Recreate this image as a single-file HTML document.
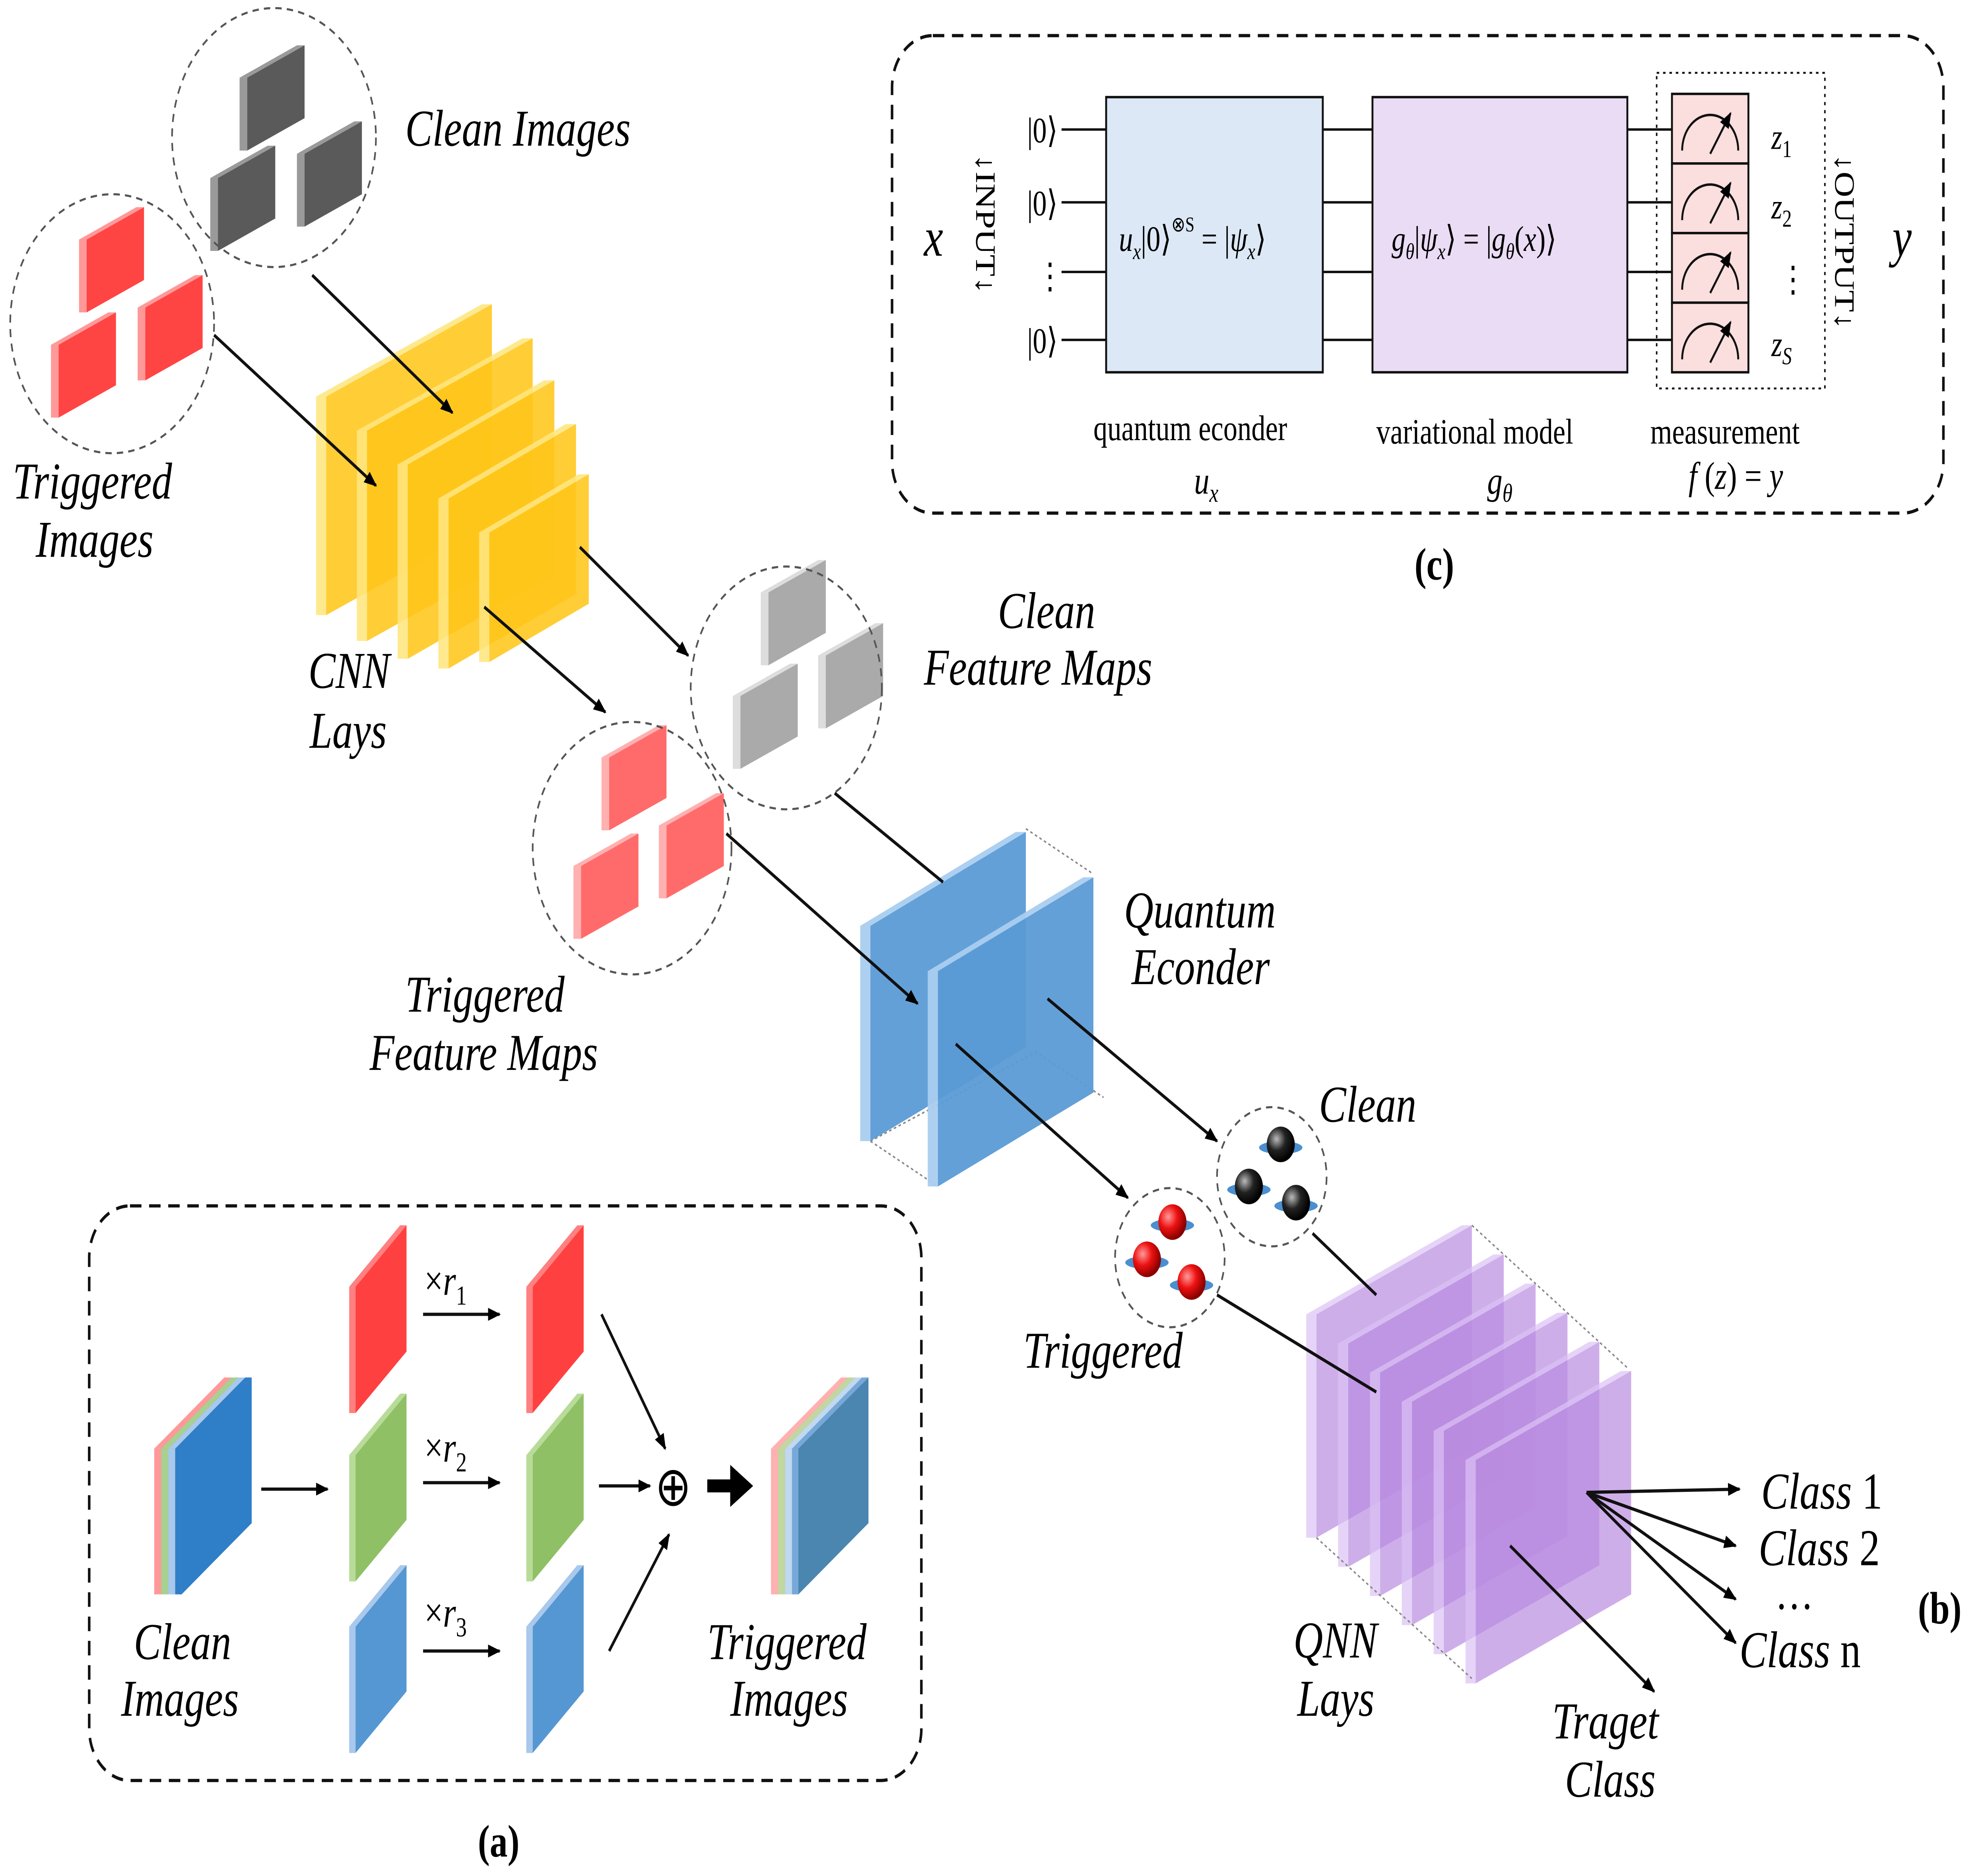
<!DOCTYPE html>
<html><head><meta charset="utf-8">
<style>
html,body{margin:0;padding:0;background:#fff;overflow:hidden;width:100vw;height:100vh;}
svg{display:block;width:100vw;height:100vh;}
text{font-family:"Liberation Serif",serif;}
.it{font-style:italic;font-size:32px;}
</style></head>
<body>
<svg id="s" viewBox="0 0 1560 1159" preserveAspectRatio="none" xmlns="http://www.w3.org/2000/svg">
<defs>
<marker id="ar" markerWidth="10" markerHeight="10" refX="9" refY="5" orient="auto" markerUnits="userSpaceOnUse"><path d="M0,1 L10,5 L0,9 z" fill="#000"/></marker>
<radialGradient id="rg" cx="35%" cy="35%" r="65%"><stop offset="0" stop-color="#ff9a9a"/><stop offset="0.5" stop-color="#ee1111"/><stop offset="1" stop-color="#800"/></radialGradient>
<radialGradient id="kg" cx="35%" cy="35%" r="65%"><stop offset="0" stop-color="#bbb"/><stop offset="0.5" stop-color="#222"/><stop offset="1" stop-color="#000"/></radialGradient>
</defs>
<g id="g"></g>

<g fill="none" stroke="#555" stroke-width="1.3" stroke-dasharray="5,4">
<circle cx="215" cy="85" r="80"/>
<circle cx="88" cy="200" r="80"/>
<circle cx="617" cy="425" r="75"/>
<circle cx="496" cy="524" r="78"/>
<circle cx="998" cy="727" r="43"/>
<circle cx="918" cy="777" r="43"/>
</g>

<text class="it" x="318" y="90">Clean Images</text>
<text class="it" x="10" y="308">Triggered</text>
<text class="it" x="28" y="344">Images</text>
<text class="it" x="242" y="425">CNN</text>
<text class="it" x="243" y="462">Lays</text>
<text class="it" x="783" y="388">Clean</text>
<text class="it" x="725" y="423">Feature Maps</text>
<text class="it" x="318" y="625">Triggered</text>
<text class="it" x="290" y="661">Feature Maps</text>
<text class="it" x="882" y="573">Quantum</text>
<text class="it" x="888" y="608">Econder</text>
<text class="it" x="1035" y="693">Clean</text>
<text class="it" x="803" y="845">Triggered</text>
<text class="it" x="1015" y="1024">QNN</text>
<text class="it" x="1018" y="1060">Lays</text>
<text class="it" x="1218" y="1074">Traget</text>
<text class="it" x="1228" y="1110">Class</text>
<text class="it" x="1382" y="932">Class <tspan font-style="normal">1</tspan></text>
<text class="it" x="1380" y="967">Class <tspan font-style="normal">2</tspan></text>
<text x="1393" y="994" font-size="30">…</text>
<text class="it" x="1365" y="1030">Class <tspan font-style="normal">n</tspan></text>
<text x="1505" y="1003" font-size="28" font-weight="bold">(b)</text>
<text x="375" y="1147" font-size="28" font-weight="bold">(a)</text>
<text x="1110" y="358" font-size="28" font-weight="bold">(c)</text>

<rect x="700" y="22" width="825" height="295" rx="32" fill="none" stroke="#111" stroke-width="2" stroke-dasharray="9,6"/>
<g stroke="#111" stroke-width="1.5">
<line x1="833" y1="80" x2="868" y2="80"/><line x1="833" y1="125" x2="868" y2="125"/><line x1="833" y1="168" x2="868" y2="168"/><line x1="833" y1="210" x2="868" y2="210"/>
<line x1="1038" y1="80" x2="1077" y2="80"/><line x1="1038" y1="125" x2="1077" y2="125"/><line x1="1038" y1="168" x2="1077" y2="168"/><line x1="1038" y1="210" x2="1077" y2="210"/>
<line x1="1277" y1="80" x2="1312" y2="80"/><line x1="1277" y1="125" x2="1312" y2="125"/><line x1="1277" y1="168" x2="1312" y2="168"/><line x1="1277" y1="210" x2="1312" y2="210"/>
</g>
<rect x="868" y="60" width="170" height="170" fill="#dce8f5" stroke="#111" stroke-width="1.5"/>
<rect x="1077" y="60" width="200" height="170" fill="#eadcf5" stroke="#111" stroke-width="1.5"/>
<rect x="1300" y="45" width="132" height="195" fill="none" stroke="#111" stroke-width="1.2" stroke-dasharray="2,3"/>
<g fill="#fbdede" stroke="#111" stroke-width="1.5">
<rect x="1312" y="58" width="60" height="43"/><rect x="1312" y="101" width="60" height="43"/><rect x="1312" y="144" width="60" height="43"/><rect x="1312" y="187" width="60" height="43"/>
</g>
<g fill="none" stroke="#111" stroke-width="1.5">
<path d="M1320,93 A22,22 0 0 1 1364,93"/><line x1="1342" y1="95" x2="1358" y2="70" marker-end="url(#ar)"/>
<path d="M1320,136 A22,22 0 0 1 1364,136"/><line x1="1342" y1="138" x2="1358" y2="113" marker-end="url(#ar)"/>
<path d="M1320,179 A22,22 0 0 1 1364,179"/><line x1="1342" y1="181" x2="1358" y2="156" marker-end="url(#ar)"/>
<path d="M1320,222 A22,22 0 0 1 1364,222"/><line x1="1342" y1="224" x2="1358" y2="199" marker-end="url(#ar)"/>
</g>
<g font-size="22">
<text x="806" y="88">|0⟩</text><text x="806" y="133">|0⟩</text><text x="813" y="178">⋮</text><text x="806" y="218">|0⟩</text>
<text x="1390" y="92" font-style="italic">z<tspan font-size="15" dy="5" font-style="normal">1</tspan></text>
<text x="1390" y="135" font-style="italic">z<tspan font-size="15" dy="5" font-style="normal">2</tspan></text>
<text x="1396" y="180">⋮</text>
<text x="1390" y="220" font-style="italic">z<tspan font-size="15" dy="5">S</tspan></text>
<text x="878" y="155" font-style="italic">u<tspan font-size="14" dy="5">x</tspan><tspan dy="-5" font-style="normal">|0⟩</tspan><tspan font-size="13" dy="-12" font-style="normal">⊗S</tspan><tspan dy="12" font-style="normal"> = |</tspan>ψ<tspan font-size="14" dy="5">x</tspan><tspan dy="-5" font-style="normal">⟩</tspan></text>
<text x="1092" y="155" font-style="italic">g<tspan font-size="14" dy="5">θ</tspan><tspan dy="-5" font-style="normal">|</tspan>ψ<tspan font-size="14" dy="5">x</tspan><tspan dy="-5" font-style="normal">⟩ = |</tspan>g<tspan font-size="14" dy="5">θ</tspan><tspan dy="-5" font-style="normal">(</tspan>x<tspan font-style="normal">)⟩</tspan></text>
<text x="858" y="272">quantum econder</text>
<text x="1080" y="274">variational model</text>
<text x="1295" y="274">measurement</text>
<text x="937" y="305" font-style="italic" font-size="24">u<tspan font-size="16" dy="5">x</tspan></text>
<text x="1167" y="305" font-style="italic" font-size="24">g<tspan font-size="16" dy="5">θ</tspan></text>
<text x="1325" y="302" font-style="italic" font-size="24">f<tspan font-style="normal"> (</tspan>z<tspan font-style="normal">) = </tspan>y</text>
</g>
<text x="725" y="158" font-size="34" font-style="italic">x</text>
<text x="1485" y="158" font-size="34" font-style="italic">y</text>
<text transform="translate(766,95) rotate(90)" font-size="22">↓INPUT↓</text>
<text transform="translate(1440,95) rotate(90)" font-size="22">↓OUTPUT↓</text>

<rect x="70" y="745" width="653" height="355" rx="32" fill="none" stroke="#111" stroke-width="2" stroke-dasharray="9,6"/>
<text class="it" x="105" y="1025">Clean</text>
<text class="it" x="95" y="1060">Images</text>
<text class="it" x="555" y="1025">Triggered</text>
<text class="it" x="573" y="1060">Images</text>
<g font-size="26"><text x="333" y="800">×<tspan font-style="italic">r</tspan><tspan font-size="17" dy="6">1</tspan></text>
<text x="333" y="903">×<tspan font-style="italic">r</tspan><tspan font-size="17" dy="6">2</tspan></text>
<text x="333" y="1005">×<tspan font-style="italic">r</tspan><tspan font-size="17" dy="6">3</tspan></text>
<text x="514" y="930" font-size="34">⊕</text></g>
<g stroke="#111" stroke-width="2" fill="none">
<line x1="205" y1="920" x2="257" y2="920" marker-end="url(#ar)"/>
<line x1="332" y1="812" x2="392" y2="812" marker-end="url(#ar)"/>
<line x1="332" y1="916" x2="392" y2="916" marker-end="url(#ar)"/>
<line x1="332" y1="1020" x2="392" y2="1020" marker-end="url(#ar)"/>
<line x1="472" y1="812" x2="522" y2="895" marker-end="url(#ar)"/>
<line x1="470" y1="918" x2="510" y2="918" marker-end="url(#ar)"/>
<line x1="478" y1="1020" x2="525" y2="948" marker-end="url(#ar)"/>
</g>
<path d="M555,914 h18 v-9 l18,13 l-18,13 v-9 h-18 z" fill="#000"/>

<g stroke="#111" stroke-width="2" fill="none">
<line x1="168" y1="207" x2="295" y2="300" marker-end="url(#ar)"/>
<line x1="245" y1="170" x2="355" y2="255" marker-end="url(#ar)"/>
<line x1="455" y1="338" x2="540" y2="405" marker-end="url(#ar)"/>
<line x1="380" y1="375" x2="475" y2="440" marker-end="url(#ar)"/>
<line x1="570" y1="515" x2="720" y2="620" marker-end="url(#ar)"/>
<line x1="655" y1="490" x2="740" y2="545"/>
<line x1="822" y1="617" x2="955" y2="705" marker-end="url(#ar)"/>
<line x1="750" y1="645" x2="885" y2="740" marker-end="url(#ar)"/>
<line x1="1030" y1="762" x2="1080" y2="800"/>
<line x1="955" y1="800" x2="1080" y2="860"/>
<line x1="1185" y1="955" x2="1298" y2="1045" marker-end="url(#ar)"/>
<line x1="1245" y1="922" x2="1365" y2="920" marker-end="url(#ar)"/>
<line x1="1245" y1="922" x2="1362" y2="955" marker-end="url(#ar)"/>
<line x1="1245" y1="922" x2="1362" y2="988" marker-end="url(#ar)"/>
<line x1="1245" y1="922" x2="1362" y2="1015" marker-end="url(#ar)"/>
</g>
<g id="top"></g>
</svg>
<script>
var NS="http://www.w3.org/2000/svg",G=document.getElementById('g'),T=document.getElementById('top');
function poly(par,pts,fill,op){var p=document.createElementNS(NS,'polygon');p.setAttribute('points',pts.map(function(a){return a.join(',')}).join(' '));p.setAttribute('fill',fill);if(op!=null)p.setAttribute('fill-opacity',op);par.appendChild(p);}
function slab(par,x,y,w,r,h,fill,edge,e,op){
 poly(par,[[x,y],[x+e,y],[x+e,y+h],[x,y+h]],edge,op);
 poly(par,[[x,y],[x+w,y-r],[x+w+e,y-r],[x+e,y]],edge,op);
 poly(par,[[x+e,y],[x+e+w,y-r],[x+e+w,y-r+h],[x+e,y+h]],fill,op);
}
function trio(par,pos,fill,edge){pos.forEach(function(p){slab(par,p[0],p[1],45,20,45,fill,edge,6,1);});}
trio(G,[[188,48],[165,110],[233,95]],'#5a5a5a','#9a9a9a');
trio(G,[[62,148],[40,213],[108,190]],'#ff4444','#ff9999');
trio(G,[[597,366],[575,430],[642,405]],'#aaaaaa','#dddddd');
trio(G,[[472,468],[450,535],[517,510]],'#ff6b6b','#ffb0b0');
var W=[130,130,115,100,78],H=[135,130,120,105,80],R=[57,57,52,46,36];
for(var i=0;i<5;i++){slab(G,248+32*i,245+21*i,W[i],R[i],H[i],'#ffc61a','#ffe680',8,0.88);}
var bx=[675,728],by=[572,600];
var d=document.createElementNS(NS,'path');d.setAttribute('d','M683,705 L813,650 L866,678 M805,512 L858,540 M683,705 L736,733');d.setAttribute('stroke','#888');d.setAttribute('fill','none');d.setAttribute('stroke-dasharray','2,2');G.appendChild(d);
for(var i=0;i<2;i++){slab(G,bx[i],by[i],122,58,133,'#5b9bd5','#a9cdf0',8,0.95);}
for(var i=0;i<6;i++){slab(G,1025+25*i,812+18*i,122,55,138,'#b98be0','#dcc2f5',8,0.7);}
var d2=document.createElementNS(NS,'path');d2.setAttribute('d','M1033,950 L1155,1037 M1155,757 L1277,845');d2.setAttribute('stroke','#888');d2.setAttribute('fill','none');d2.setAttribute('stroke-dasharray','2,2');G.appendChild(d2);
function st(x,y,cols){var n=cols.length;cols.forEach(function(c,i){slab(G,x+i*5.5,y,i==n-1?55:55,44,90,c[0],c[1],i==n-1?5:5.5,1);});}
st(121,895,[['#ff4444','#ff9999'],['#6ab04c','#a8d090'],['#5b9bd5','#a8c8ec'],['#2f7ec8','#2f7ec8']]);
st(605,895,[['#ff7777','#ffb0b0'],['#9a9048','#c0d8a0'],['#6a98b0','#c0d8f0'],['#4a86b0','#78a8d8']]);
function sl(x,y,f,e){slab(G,x,y,40,38,78,f,e,5,1);}
sl(274,795,'#ff4040','#ff8080');sl(413,795,'#ff4040','#ff8080');
sl(274,899,'#8fc066','#b8dc98');sl(413,899,'#8fc066','#b8dc98');
sl(274,1005,'#5597d2','#a8c8ec');sl(413,1005,'#5597d2','#a8c8ec');
function sph(x,y,g){var e=document.createElementNS(NS,'ellipse');e.setAttribute('cx',x);e.setAttribute('cy',y+2);e.setAttribute('rx',17);e.setAttribute('ry',4);e.setAttribute('fill','#4a8fd0');T.appendChild(e);var c=document.createElementNS(NS,'circle');c.setAttribute('cx',x);c.setAttribute('cy',y);c.setAttribute('r',11);c.setAttribute('fill','url(#'+g+')');T.appendChild(c);}
sph(1005,707,'kg');sph(980,733,'kg');sph(1017,743,'kg');
sph(920,755,'rg');sph(900,778,'rg');sph(935,792,'rg');
</script>
</body></html>
